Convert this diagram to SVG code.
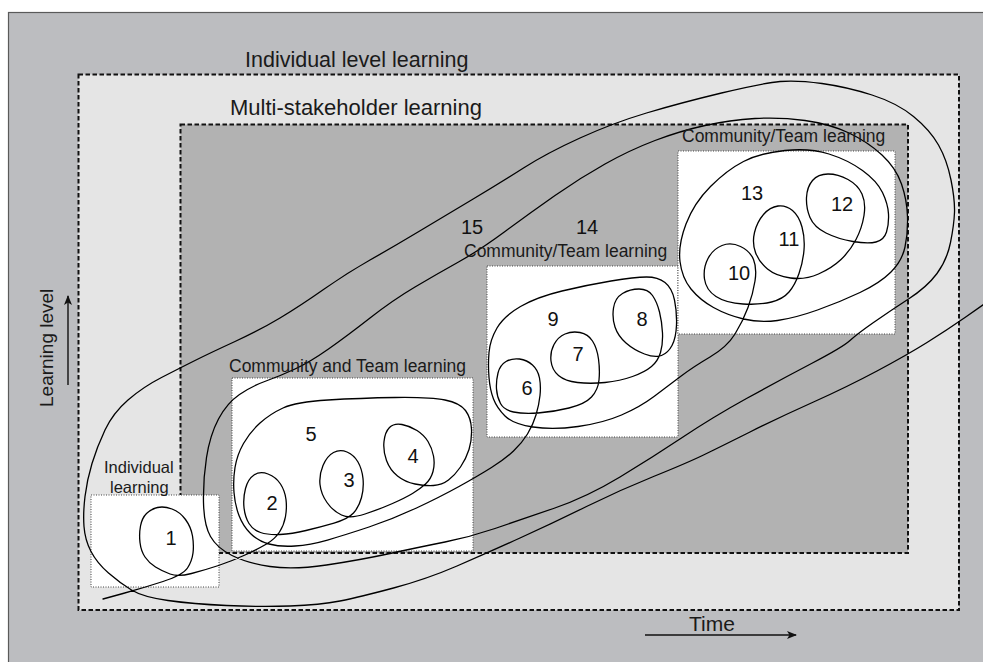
<svg xmlns="http://www.w3.org/2000/svg" width="983" height="662" viewBox="0 0 983 662">
  <defs>
    <marker id="arrowhead" viewBox="0 0 10 8" refX="9" refY="4" markerWidth="10" markerHeight="8" markerUnits="userSpaceOnUse" orient="auto">
      <path d="M0,0 L10,4 L0,8 L2.5,4 Z" fill="#111"/>
    </marker>
    <style>
      .zone { stroke: #111; stroke-width: 2; stroke-dasharray: 4.5 2.5; }
      .work { fill: #fff; stroke: #444; stroke-width: 1; stroke-dasharray: 1 1.5; }
      .lbl { font-family: "Liberation Sans", Arial, sans-serif; fill: #1a1a1a; }
      .num { font-family: "Liberation Sans", Arial, sans-serif; font-size: 20px; fill: #111; text-anchor: middle; }
      .spiral { fill: none; stroke: #000; stroke-width: 1.3; stroke-linejoin: round; stroke-linecap: round; }
      .axis { stroke: #111; stroke-width: 1.4; fill: none; }
    </style>
  </defs>

  <!-- page and outer panel -->
  <rect width="983" height="662" fill="#fff"/>
  <rect x="8.5" y="12.5" width="990" height="670" fill="#bcbdc0" stroke="#5a5a5a" stroke-width="1.2"/>

  <!-- learning zones -->
  <g id="individual-level">
    <rect class="zone" x="78.5" y="74.5" width="880.5" height="535.5" fill="#e5e5e5"/>
    <text class="lbl" x="245" y="67" font-size="21.5">Individual level learning</text>
  </g>
  <g id="multi-stakeholder">
    <rect class="zone" x="180.5" y="124.5" width="727.5" height="428.5" fill="#b2b2b2"/>
    <text class="lbl" x="230" y="115" font-size="22">Multi-stakeholder learning</text>
  </g>

  <!-- work areas -->
  <g id="individual-learning">
    <rect class="work" x="91" y="495" width="128" height="92"/>
  </g>
  <g id="community-team-a">
    <rect class="work" x="232" y="378" width="241" height="173"/>
  </g>
  <g id="community-team-b">
    <rect class="work" x="487" y="266" width="191" height="171"/>
  </g>
  <g id="community-team-c">
    <rect class="work" x="678" y="151" width="217" height="183"/>
  </g>

  <!-- learning path: one continuous spiral from individual to multi-stakeholder level -->
  <g id="connectors">
    <path class="spiral" d="M103 599 L123 593.5
      Q143 588 163 581.5 Q183 575 187.5 568 Q192 561 193 553 Q194 545 192.5 536 Q191 527 185.5 519.5
      Q180 512 172 509 Q164 506 157.5 507.5 Q151 509 146.5 513.5 Q142 518 140.5 526 Q139 534 140 542.5
      Q141 551 145 557 Q149 563 155.5 567 Q162 571 170 574 Q178 577 191.5 573.5 Q205 570 218.5 565.5
      Q232 561 245 555 Q258 549 266.5 544 Q275 539 279.5 532 Q284 525 285.5 516.5 Q287 508 286 499.5
      Q285 491 280.5 484 Q276 477 268 474 Q260 471 254 475 Q248 479 245.5 488.5 Q243 498 244 507.5
      Q245 517 249 523.5 Q253 530 260.5 532.5 Q268 535 280 534.5 Q292 534 306 530.5 Q320 527 334 523
      Q348 519 353.5 513 Q359 507 361.5 497.5 Q364 488 363 478.5 Q362 469 358 462 Q354 455 347 452
      Q340 449 333.5 452.5 Q327 456 323 465.5 Q319 475 320 484.5 Q321 494 327 502.5 Q333 511 341.5 515
      Q350 519 365 514 Q380 509 392.5 503.5 Q405 498 412.5 493.5 Q420 489 425.5 484 Q431 479 433 471.5
      Q435 464 433.5 456 Q432 448 428 441.5 Q424 435 417 430.5 Q410 426 402 424.5 Q394 423 389.5 427.5
      Q385 432 384 441.5 Q383 451 386.5 460.5 Q390 470 397.5 476 Q405 482 415 484 Q425 486 433.5 485.5
      Q442 485 448.5 480 Q455 475 460.5 467 Q466 459 469 449.5 Q472 440 471.5 429 Q471 418 465.5 410.5
      Q460 403 445 400 Q430 397 395 397.5 Q360 398 328 400 Q296 402 283 408 Q270 414 260 423
      Q250 432 243.5 443.5 Q237 455 235 467.5 Q233 480 234 492.5 Q235 505 239 515.5 Q243 526 250.5 533.5
      Q258 541 269 544 Q280 547 295 546 Q310 545 327.5 540 Q345 535 369 527 Q393 519 416.5 508
      Q440 497 459 486.5 Q478 476 491.5 467.5 Q505 459 513.5 451 Q522 443 527.5 434 Q533 425 536 415
      Q539 405 540 395.5 Q541 386 539.5 378 Q538 370 532.5 365 Q527 360 519.5 359 Q512 358 506 361.5
      Q500 365 498 373 Q496 381 496.5 389 Q497 397 500.5 403.5 Q504 410 513.5 412 Q523 414 538 413
      Q553 412 569 408 Q585 404 591.5 397 Q598 390 599 380 Q600 370 598.5 359 Q597 348 592.5 341
      Q588 334 580 332.5 Q572 331 565 334 Q558 337 554 344.5 Q550 352 551 361 Q552 370 558.5 375.5
      Q565 381 577.5 382.5 Q590 384 605 382.5 Q620 381 632.5 376.5 Q645 372 651.5 366.5 Q658 361 660.5 352.5
      Q663 344 662.5 333 Q662 322 659.5 312 Q657 302 652.5 295.5 Q648 289 639 289 Q630 289 622.5 293.5
      Q615 298 613.5 308 Q612 318 615 327 Q618 336 626 343 Q634 350 644.5 354 Q655 358 661.5 355.5
      Q668 353 672 345.5 Q676 338 676.5 325 Q677 312 674.5 300 Q672 288 665 282.5 Q658 277 646.5 277
      Q635 277 611 281 Q587 285 562 291 Q537 297 520.5 306.5 Q504 316 497 328 Q490 340 489 352.5
      Q488 365 489 377.5 Q490 390 493.5 399 Q497 408 505 416 Q513 424 533 427 Q553 430 578 426.5
      Q603 423 621.5 415 Q640 407 654 396.5 Q668 386 680.5 376.5 Q693 367 710 357 Q727 347 735 334
      Q743 321 748 307.5 Q753 294 755 281 Q757 268 753.5 259.5 Q750 251 740.5 246.5 Q731 242 722 245.5
      Q713 249 708 258.5 Q703 268 704.5 279 Q706 290 716 296.5 Q726 303 743 304 Q760 305 771.5 302
      Q783 299 789 292 Q795 285 799 273.5 Q803 262 804 250 Q805 238 802 227 Q799 216 792.5 210.5
      Q786 205 778 206 Q770 207 763.5 214.5 Q757 222 754.5 232.5 Q752 243 755.5 252.5 Q759 262 767.5 269
      Q776 276 790.5 278 Q805 280 818.5 274 Q832 268 841 259.5 Q850 251 856 239.5 Q862 228 864 215.5
      Q866 203 862 194 Q858 185 848 179.5 Q838 174 828 174 Q818 174 812.5 180.5 Q807 187 806.5 197.5
      Q806 208 810 217.5 Q814 227 826 233 Q838 239 853 241.5 Q868 244 876 242 Q884 240 886.5 232
      Q889 224 888.5 214 Q888 204 882.5 192.5 Q877 181 862.5 170.5 Q848 160 829 154 Q810 148 785 150.5
      Q760 153 743.5 161.5 Q727 170 710.5 186.5 Q694 203 686 224 Q678 245 680 261.5 Q682 278 691 289
      Q700 300 713.5 307.5 Q727 315 743.5 319 Q760 323 777.5 320.5 Q795 318 817.5 310 Q840 302 860 292.5
      Q880 283 891 272 Q902 261 905 247 Q908 233 907.5 216.5 Q907 200 901.5 184 Q896 168 882 155
      Q868 142 849 133 Q830 124 805 120.5 Q780 117 755 118.5 Q730 120 705 125.5 Q680 131 655 140.5
      Q630 150 605 164 Q580 178 555 195.5 Q530 213 505 231.5 Q480 250 458.5 262 Q437 274 415 287
      Q393 300 370 318 Q347 336 328.5 349 Q310 362 295 369 Q280 376 266 381 Q252 386 239.5 394.5
      Q227 403 218.5 419 Q210 435 206.5 457.5 Q203 480 203.5 502.5 Q204 525 210.5 536.5 Q217 548 232 555.5
      Q247 563 270 566.5 Q293 570 326.5 565 Q360 560 390 553.5 Q420 547 445 542 Q470 537 495 528.5
      Q520 520 553.5 508.5 Q587 497 620 477 Q653 457 683 437 Q713 417 746.5 398.5 Q780 380 811.5 363.5
      Q843 347 850 340.5 Q857 334 873.5 322.5 Q890 311 908.5 299 Q927 287 937 273.5 Q947 260 950.5 242.5
      Q954 225 954.5 212.5 Q955 200 951 180 Q947 160 938.5 145 Q930 130 913.5 116.5 Q897 103 872 95
      Q847 87 822 83.5 Q797 80 780 81.5 Q763 83 721.5 93 Q680 103 646.5 113 Q613 123 580 138
      Q547 153 523.5 168 Q500 183 471.5 200 Q443 217 418 232 Q393 247 370 260 Q347 273 323.5 289.5
      Q300 306 280 318 Q260 330 235 341.5 Q210 353 195 360.5 Q180 368 161.5 377.5 Q143 387 128 400
      Q113 413 105 430 Q97 447 92 463.5 Q87 480 85 496.5 Q83 513 84 526.5 Q85 540 91 551.5
      Q97 563 108.5 573 Q120 583 131.5 590 Q143 597 168 600.5 Q193 604 226.5 605.5 Q260 607 290 606
      Q320 605 340 601 Q360 597 393.5 588 Q427 579 457 566 Q487 553 520 538 Q553 523 586.5 506.5
      Q620 490 653.5 476.5 Q687 463 703.5 455 Q720 447 750 432 Q780 417 813.5 402 Q847 387 877 371
      Q907 355 927 342.5 Q947 330 965 317.5 L985 303.5"/>
  </g>

  <!-- zone labels -->
  <g id="labels">
    <text class="lbl" x="682" y="142" font-size="17.5">Community/Team learning</text>
    <text class="lbl" x="464" y="257" font-size="17.5">Community/Team learning</text>
    <text class="lbl" x="229" y="372" font-size="17.5">Community and Team learning</text>
    <text class="lbl" x="104" y="473" font-size="16.5">Individual</text>
    <text class="lbl" x="110" y="493" font-size="16.5">learning</text>
  </g>

  <!-- numbered learning moments -->
  <g id="n1"><text class="num" x="171" y="545">1</text></g>
  <g id="n2"><text class="num" x="272" y="510">2</text></g>
  <g id="n3"><text class="num" x="349" y="487">3</text></g>
  <g id="n4"><text class="num" x="413" y="463">4</text></g>
  <g id="n5"><text class="num" x="311" y="441">5</text></g>
  <g id="n6"><text class="num" x="527" y="395">6</text></g>
  <g id="n7"><text class="num" x="578" y="361">7</text></g>
  <g id="n8"><text class="num" x="642" y="326">8</text></g>
  <g id="n9"><text class="num" x="553" y="326">9</text></g>
  <g id="n10"><text class="num" x="739" y="280">10</text></g>
  <g id="n11"><text class="num" x="789" y="246">11</text></g>
  <g id="n12"><text class="num" x="842" y="211">12</text></g>
  <g id="n13"><text class="num" x="752" y="200">13</text></g>
  <g id="n14"><text class="num" x="587" y="234">14</text></g>
  <g id="n15"><text class="num" x="472" y="234">15</text></g>

  <!-- axes -->
  <g id="axis-level">
    <line class="axis" x1="68" y1="385" x2="68" y2="296" marker-end="url(#arrowhead)"/>
    <text class="lbl" transform="translate(53 407) rotate(-90)" font-size="19">Learning level</text>
  </g>
  <g id="axis-time">
    <line class="axis" x1="645" y1="635" x2="796" y2="635" marker-end="url(#arrowhead)"/>
    <text class="lbl" x="689" y="631" font-size="21">Time</text>
  </g>
</svg>
